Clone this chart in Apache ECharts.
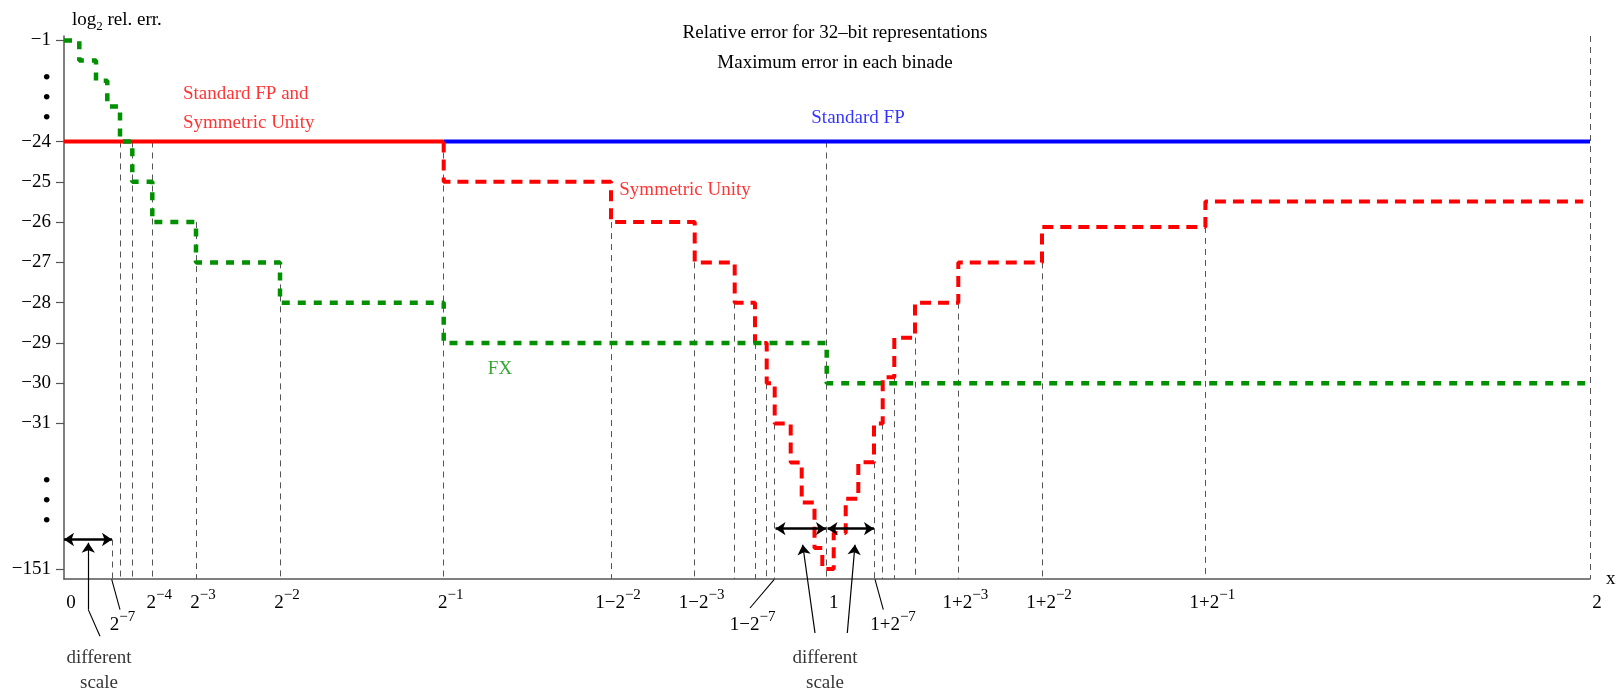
<!DOCTYPE html>
<html><head><meta charset="utf-8">
<script src="https://cdn.jsdelivr.net/npm/echarts@6/dist/echarts.min.js"></script>
<style>html,body{margin:0;padding:0;background:#fff}#c{width:1621px;height:693px}</style>
</head><body><div id="c"></div>
<script>
const FONT = '"Liberation Serif","Times New Roman",serif';

// ---------- DATA (schematic, non-linear axes; values in axis units) ----------
// x: schematic position of the labelled binade boundaries
const xMainLabels = ['0','2^−4','2^−3','2^−2','2^−1','1−2^−2','1−2^−3','1','1+2^−3','1+2^−2','1+2^−1','2'];
const xMainPos    = [0, 88.3, 132, 216, 379.7, 547, 630.7, 762.7, 894.3, 978, 1141.4, 1526];
const xLowLabels  = ['2^−7','1−2^−7','1+2^−7'];
const xLowPos     = [48, 710.7, 810];

// y: tick labels and their schematic positions
const yTickLabels = ['−1','−24','−25','−26','−27','−28','−29','−30','−31','−151'];
const yTickPos    = [-21.49,-24,-25,-26,-27,-28,-29,-30,-31,-34.61];
const yDotPos     = [-22.377,-22.873,-23.37,-32.37,-32.87,-33.36];

// Standard FP (and Symmetric Unity below 2^-1)
const stdLevel = -24;
const stdSplit = 379.7;   // 2^-1
const stdEnd   = 1526;    // 2

// FX (green) step function: boundaries and levels
const fxX = [0, 15.3, 32, 43.3, 56, 68.3, 88.3, 132, 216, 379.7, 762.7, 1526];
const fxY = [-21.49, -21.99, -22.49, -23.13, -24, -25, -26, -27, -28, -29, -30];

// Symmetric Unity (red dashed) step function
const symX = [379.7, 547, 630.7, 670.7, 691, 702.7, 710.7, 726.7, 737.7, 750.5, 758.3, 769.7, 781.7, 794.3, 810, 818.7, 830.3, 851, 894.3, 978, 1141.4, 1519];
const symY = [-25, -26, -27, -28, -29, -30, -31, -31.97, -32.96, -34.09, -34.61, -33.72, -32.87, -31.96, -31, -29.85, -28.87, -28, -27, -26.12, -25.49];

// vertical guide lines: x and level where each starts
const guideX   = [48, 56, 68.3, 88.3, 132, 216, 379.7, 547, 630.7, 670.7, 691, 702.7, 710.7, 762.7, 810, 818.7, 830.3, 851, 894.3, 978, 1141.4, 1526];
const guideTop = [-33.88, -24, -24, -24, -26, -27, -24, -26, -27, -28, -29, -30, -31, -24, -31.96, -31, -29.85, -28.87, -28, -27, -26.12, -21.38];

// "different scale" markers
const scaleArrows = [[[0,-33.88],[48,-33.88]], [[711.5,-33.61],[762,-33.61]], [[763.5,-33.61],[810,-33.61]]];
const scalePointers = [[[24.3,-35.62],[24.3,-33.96]], [[751,-36.2],[738.7,-34.01]], [[783.3,-36.2],[791,-34.01]]];
const plainPointers = [[[36,-36.28],[24.3,-35.62]], [[47.7,-34.87],[56,-35.62]], [[710.3,-34.87],[686,-35.58]], [[811,-34.87],[819.3,-35.62]]];

// ---------- CHART ----------
const Y_MIN = -34.86, Y_MAX = -21.38, X_MIN = 0, X_MAX = 1526;

function steps(xs, ys, startY) {
  const pts = [];
  if (startY != null) pts.push([xs[0], startY]);
  for (let i = 0; i < ys.length; i++) { pts.push([xs[i], ys[i]]); pts.push([xs[i+1], ys[i]]); }
  return pts;
}
function findIdx(arr, v) { for (let i = 0; i < arr.length; i++) if (Math.abs(arr[i]-v) < 1e-6) return i; return -1; }
function supText(t, bStyle, sStyle) {
  const p = t.split('^');
  return '{' + bStyle + '|' + p[0] + '}' + (p[1] ? '{' + sStyle + '|' + p[1] + '}' : '');
}
const lowShift = { '2^−7': ['bp21','s'], '1−2^−7': ['b0','sr44'], '1+2^−7': ['bp38','s'] };

const chart = echarts.init(document.getElementById('c'));
const baseRich = {
  b:    { fontSize: 19, lineHeight: 30, fontFamily: FONT, color: '#000', padding: [0,0,0,14] },
  b0:   { fontSize: 19, lineHeight: 30, fontFamily: FONT, color: '#000' },
  bp21: { fontSize: 19, lineHeight: 30, fontFamily: FONT, color: '#000', padding: [0,0,0,21] },
  bp38: { fontSize: 19, lineHeight: 30, fontFamily: FONT, color: '#000', padding: [0,0,0,38] },
  s:    { fontSize: 15, lineHeight: 15, fontFamily: FONT, color: '#000', verticalAlign: 'top' },
  sr44: { fontSize: 15, lineHeight: 15, fontFamily: FONT, color: '#000', verticalAlign: 'top', padding: [0,44,0,0] },
  g:    { fontSize: 10, lineHeight: 22 }
};

const txt = (color) => ({ show: true, position: 'inside', fontFamily: FONT, fontSize: 19, color: color });
const yLabelValues = yTickPos.concat(yDotPos).sort((a, b) => a - b);
const xLabelValues = xMainPos.concat(xLowPos).sort((a, b) => a - b);

chart.setOption({
  animation: false,
  backgroundColor: '#fff',
  title: {
    left: 835, top: 22, padding: 0, textAlign: 'center', itemGap: 8,
    text: 'Relative error for 32–bit representations',
    subtext: 'Maximum error in each binade',
    textStyle: { fontFamily: FONT, fontSize: 19, fontWeight: 'normal', color: '#000', lineHeight: 22 },
    subtextStyle: { fontFamily: FONT, fontSize: 19, color: '#000', lineHeight: 22 }
  },
  grid: { left: 64, right: 31, top: 36, bottom: 114 },
  xAxis: {
    type: 'value', min: X_MIN, max: X_MAX,
    name: 'x', nameLocation: 'end', nameGap: 16,
    nameTextStyle: { fontFamily: FONT, fontSize: 19, color: '#000', verticalAlign: 'middle' },
    axisLine: { show: true, onZero: false, lineStyle: { color: '#555', width: 1.5 } },
    axisTick: { show: false },
    splitLine: { show: false },
    axisLabel: {
      margin: 9, verticalAlign: 'top', showMinLabel: true, showMaxLabel: true,
      customValues: xLabelValues,
      formatter: function (v) {
        let i = findIdx(xMainPos, v);
        if (i >= 0) return supText(xMainLabels[i], 'b', 's');
        i = findIdx(xLowPos, v);
        if (i >= 0) { const t = xLowLabels[i]; const st = lowShift[t]; return '{g| }\n' + supText(t, st[0], st[1]); }
        return '';
      },
      rich: baseRich
    }
  },
  yAxis: {
    type: 'value', min: Y_MIN, max: Y_MAX,
    name: '{a|log}{sub|2}{a| rel. err.}', nameLocation: 'end', nameGap: 3,
    nameTextStyle: { align: 'left', verticalAlign: 'bottom', padding: [0,0,0,8],
      rich: { a: { fontSize: 19, lineHeight: 26, fontFamily: FONT, color: '#000' },
              sub: { fontSize: 13, lineHeight: 13, fontFamily: FONT, color: '#000', verticalAlign: 'bottom' } } },
    axisLine: { show: true, onZero: false, lineStyle: { color: '#555', width: 1.5 } },
    axisTick: { show: true, length: 8, customValues: yTickPos, lineStyle: { color: '#555', width: 1.2 } },
    splitLine: { show: false },
    axisLabel: {
      margin: 13, fontFamily: FONT, fontSize: 19, color: '#000', showMinLabel: true, showMaxLabel: true,
      customValues: yLabelValues,
      formatter: function (v) {
        const i = findIdx(yTickPos, v);
        if (i >= 0) return yTickLabels[i];
        return '{dot|•}';
      },
      rich: { dot: { fontSize: 24, fontFamily: FONT, color: '#000', padding: [6,0,0,0] } }
    }
  },
  series: [
    { name: 'guides', type: 'lines', coordinateSystem: 'cartesian2d', z: 1, silent: true,
      data: guideX.map((x, i) => ({ coords: [[x, guideTop[i]], [x, Y_MIN]] })),
      lineStyle: { color: '#555', width: 1, type: [6,5], opacity: 1 } },
    { name: 'Standard FP and Symmetric Unity', type: 'line', z: 3, symbol: 'none',
      data: [[X_MIN, stdLevel], [stdSplit, stdLevel]],
      lineStyle: { color: '#ff0000', width: 4 } },
    { name: 'Standard FP', type: 'line', z: 3, symbol: 'none',
      data: [[stdSplit, stdLevel], [stdEnd, stdLevel]],
      lineStyle: { color: '#0000ff', width: 4 } },
    { name: 'Symmetric Unity', type: 'line', z: 4, symbol: 'none',
      data: steps(symX, symY, stdLevel),
      lineStyle: { color: '#ff0000', width: 4, type: [11,7] } },
    { name: 'FX', type: 'line', z: 5, symbol: 'none',
      data: steps(fxX, fxY),
      lineStyle: { color: '#009000', width: 4.5, type: [8,8] } },
    { name: 'scaleArrows', type: 'lines', coordinateSystem: 'cartesian2d', z: 6, silent: true, clip: false,
      symbol: ['arrow','arrow'], symbolSize: 10,
      data: scaleArrows.map(c => ({ coords: c })),
      lineStyle: { color: '#000', width: 2.5, opacity: 1 } },
    { name: 'scalePointers', type: 'lines', coordinateSystem: 'cartesian2d', z: 6, silent: true, clip: false,
      symbol: ['none','arrow'], symbolSize: [8, 10],
      data: scalePointers.map(c => ({ coords: c })),
      lineStyle: { color: '#000', width: 1.2, opacity: 1 } },
    { name: 'plainPointers', type: 'lines', coordinateSystem: 'cartesian2d', z: 6, silent: true, clip: false,
      symbol: 'none',
      data: plainPointers.map(c => ({ coords: c })),
      lineStyle: { color: '#000', width: 1.1, opacity: 1 } },
    { name: 'texts', type: 'scatter', z: 7, silent: true, clip: false,
      symbol: 'circle', symbolSize: 1, itemStyle: { color: 'rgba(0,0,0,0)' },
      data: [
        { value: [119, -23.176], label: Object.assign(txt('#ff0000'), { formatter: 'Standard FP and\nSymmetric Unity', align: 'left', lineHeight: 29 }) },
        { value: [794, -23.42], label: Object.assign(txt('#0000ff'), { formatter: 'Standard FP', align: 'center' }) },
        { value: [555.3, -25.2], label: Object.assign(txt('#ff0000'), { formatter: 'Symmetric Unity', align: 'left' }) },
        { value: [436, -29.64], label: Object.assign(txt('#009000'), { formatter: 'FX', align: 'center' }) },
        { value: [35, -37.13], label: Object.assign(txt('#000'), { formatter: 'different\nscale', align: 'center', lineHeight: 25 }) },
        { value: [761, -37.13], label: Object.assign(txt('#000'), { formatter: 'different\nscale', align: 'center', lineHeight: 25 }) }
      ] }
  ]
});
</script></body></html>
